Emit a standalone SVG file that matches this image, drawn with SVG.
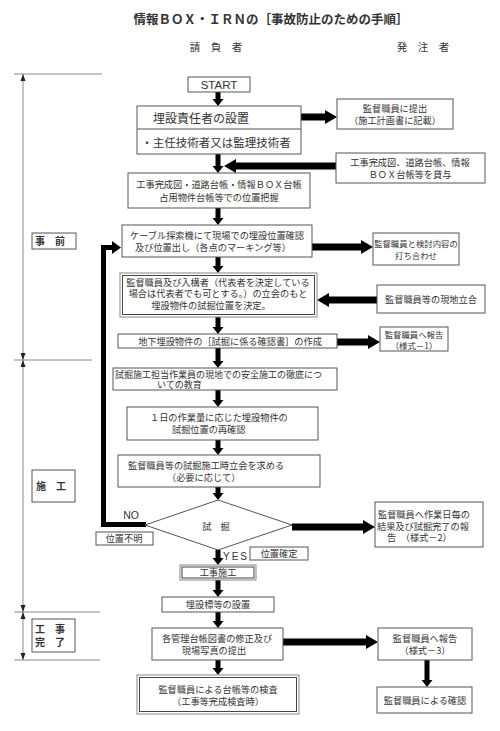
<svg xmlns="http://www.w3.org/2000/svg" width="500" height="731" viewBox="0 0 500 731">
<style>
text{font-family:"Noto Sans CJK JP","Noto Sans CJK SC",sans-serif;fill:#333;font-size:9.2px}
.c{text-anchor:middle}
.b{fill:#fff;stroke:#555;stroke-width:1}
.b2{fill:none;stroke:#888;stroke-width:1}
.a{fill:#000}
.tl{stroke:#888;stroke-width:1;fill:none}
.ah{fill:#222}
.lb{font-weight:bold;font-size:10px}
.s{font-size:8.4px}
</style>
<rect width="500" height="731" fill="#fff"/>
<g id="title">
<text x="271" y="24" class="c" style="font-size:12.5px;font-weight:bold">情報ＢＯＸ・ＩＲＮの［事故防止のための手順］</text>
<text x="216" y="51" class="c" style="font-size:10.5px">請　負　者</text>
<text x="423" y="51" class="c" style="font-size:10.5px">発　注　者</text>
</g>
<g id="timeline">
<line class="tl" x1="23" y1="74" x2="23" y2="660"/>
<line class="tl" x1="14" y1="74" x2="102" y2="74"/>
<line class="tl" x1="14" y1="360" x2="92" y2="360"/>
<line class="tl" x1="14" y1="612" x2="100" y2="612"/>
<line class="tl" x1="14" y1="660" x2="100" y2="660"/>
<polygon class="ah" points="23,74 20.5,81 25.5,81"/>
<polygon class="ah" points="20.5,353 25.5,353 23,360 25.5,367 20.5,367 23,360"/>
<polygon class="ah" points="20.5,605 25.5,605 23,612 25.5,619 20.5,619 23,612"/>
<polygon class="ah" points="20.5,653 25.5,653 23,660"/>
</g>
<g id="phase1"><rect class="b" x="32" y="233" width="44" height="16"/><text x="50" y="245" class="c lb">事　前</text></g>
<g id="phase2"><rect class="b" x="32" y="470" width="43" height="32"/><text x="51" y="490" class="c lb">施　工</text></g>
<g id="phase3"><rect class="b" x="32" y="619" width="43" height="33"/><text class="c lb"><tspan x="50" y="633">工　事</tspan><tspan x="50" y="646">完　了</tspan></text></g>

<g id="connectors">
<polygon class="a" points="215.5,92 220.5,92 220.5,99 223.5,99 218,106 212.5,99 215.5,99"/>
<polygon class="a" points="215.5,154 220.5,154 220.5,166 223.5,166 218,173 212.5,166 215.5,166"/>
<polygon class="a" points="215.5,208 220.5,208 220.5,218 223.5,218 218,225 212.5,218 215.5,218"/>
<polygon class="a" points="215.5,257 220.5,257 220.5,266 223.5,266 218,273 212.5,266 215.5,266"/>
<polygon class="a" points="215.5,317 220.5,317 220.5,327 223.5,327 218,334 212.5,327 215.5,327"/>
<polygon class="a" points="215.5,348 220.5,348 220.5,361 223.5,361 218,368 212.5,361 215.5,361"/>
<polygon class="a" points="215.5,390 220.5,390 220.5,400 223.5,400 218,407 212.5,400 215.5,400"/>
<polygon class="a" points="215.5,440 220.5,440 220.5,448 223.5,448 218,455 212.5,448 215.5,448"/>
<polygon class="a" points="215.5,487 220.5,487 220.5,493 223.5,493 218,500 212.5,493 215.5,493"/>
<polygon class="a" points="215.5,550 220.5,550 220.5,558 223.5,558 218,565 212.5,558 215.5,558"/>
<polygon class="a" points="215.5,580 220.5,580 220.5,590 223.5,590 218,597 212.5,590 215.5,590"/>
<polygon class="a" points="215.5,612 220.5,612 220.5,621 223.5,621 218,628 212.5,621 215.5,621"/>
<polygon class="a" points="215.5,660 220.5,660 220.5,668 223.5,668 218,675 212.5,668 215.5,668"/>
<polygon class="a" points="424.5,660 429.5,660 429.5,680 432.5,680 427,687 421.5,680 424.5,680"/>
<polygon class="a" points="301,113.5 325,113.5 325,110 337,117 325,124 325,120.5 301,120.5"/>
<polygon class="a" points="312,243.5 361,243.5 361,240 373,247 361,254 361,250.5 312,250.5"/>
<polygon class="a" points="337,338.5 368,338.5 368,335 380,342 368,349 368,345.5 337,345.5"/>
<polygon class="a" points="292,523.5 363,523.5 363,520 375,527 363,534 363,530.5 292,530.5"/>
<polygon class="a" points="283,638.5 366,638.5 366,635 378,642 366,649 366,645.5 283,645.5"/>
<polygon class="a" points="336,162.5 236,162.5 236,159 224,166 236,173 236,169.5 336,169.5"/>
<polygon class="a" points="377,296.5 329,296.5 329,293 317,300 329,307 329,303.5 377,303.5"/>
<path d="M146,524.5 H103.5 V247.5 H113" stroke="#000" stroke-width="5" fill="none"/>
<polygon class="a" points="112,241 121,247.5 112,254"/>
<text x="131" y="519" class="c" style="font-family:'Liberation Sans',sans-serif;font-size:10.5px">NO</text>
<text x="223" y="560" style="font-family:'Liberation Sans',sans-serif;font-size:10px;letter-spacing:2px">YES</text>
</g>

<g id="start"><rect class="b" x="188" y="77" width="62" height="15"/><text x="219" y="89" class="c" style="font-family:'Liberation Sans',sans-serif;font-size:11.5px">START</text></g>
<g id="n1"><rect class="b" x="137" y="106" width="164" height="48"/><line x1="137" y1="129" x2="301" y2="129" stroke="#555"/>
<text x="201" y="123" class="c" style="font-size:12px">埋設責任者の設置</text>
<text x="216" y="147" class="c" style="font-size:11.5px">・主任技術者又は監理技術者</text></g>
<g id="r1"><rect class="b" x="337" y="99" width="116" height="30"/><text class="c"><tspan x="395" y="112">監督職員に提出</tspan><tspan x="395" y="124">（施工計画書に記載）</tspan></text></g>
<g id="r2"><rect class="b" x="336" y="153" width="149" height="30"/><text class="c"><tspan x="410" y="166">工事完成図、道路台帳、情報</tspan><tspan x="410" y="178">ＢＯＸ台帳等を貸与</tspan></text></g>
<g id="n2"><rect class="b" x="128" y="173" width="182" height="35"/><text class="c"><tspan x="219" y="188">工事完成図・道路台帳・情報ＢＯＸ台帳</tspan><tspan x="219" y="201">占用物件台帳等での位置把握</tspan></text></g>
<g id="n3"><rect class="b" x="122" y="225" width="190" height="32"/><text class="c"><tspan x="217" y="238.5">ケーブル探索機にて現場での埋設位置確認</tspan><tspan x="213" y="251">及び位置出し（各点のマーキング等）</tspan></text></g>
<g id="r3"><rect class="b" x="373" y="233" width="86" height="32"/><text class="c s"><tspan x="416" y="246.5">監督職員と検討内容の</tspan><tspan x="416" y="259">打ち合わせ</tspan></text></g>
<g id="n4"><rect class="b" x="120" y="273" width="197" height="44" style="stroke:#888"/><rect class="b2" x="122.5" y="275.5" width="192" height="39" style="stroke:#444"/>
<text class="c"><tspan x="218" y="285.5">監督職員及び入構者（代表者を決定している</tspan><tspan x="218" y="297">場合は代表者でも可とする。）の立会のもと</tspan><tspan x="211" y="308.5">埋設物件の試掘位置を決定。</tspan></text></g>
<g id="r4"><rect class="b" x="377" y="285" width="108" height="28"/><text x="431" y="303" class="c">監督職員等の現地立合</text></g>
<g id="n5"><rect class="b" x="118" y="334" width="219" height="14"/><text x="230" y="345" class="c">地下埋設物件の［試掘に係る確認書］の作成</text></g>
<g id="r5"><rect class="b" x="380" y="327" width="68" height="24"/><text class="c s"><tspan x="414" y="337.5">監督職員へ報告</tspan><tspan x="414" y="348.5">（様式－1）</tspan></text></g>
<g id="n6"><rect class="b" x="113" y="368" width="224" height="22"/><text style="font-size:9px"><tspan x="115" y="377.5">試掘施工担当作業員の現地での安全施工の徹底につ</tspan><tspan x="157" y="388">いての教育</tspan></text></g>
<g id="n7"><rect class="b" x="127" y="407" width="191" height="33"/><text><tspan x="150" y="421">１日の作業量に応じた埋設物件の</tspan><tspan x="172" y="433">試掘位置の再確認</tspan></text></g>
<g id="n8"><rect class="b" x="118" y="455" width="202" height="32"/><text><tspan x="128" y="469">監督職員等の試掘施工時立会を求める</tspan><tspan x="167" y="481">（必要に応じて）</tspan></text></g>
<g id="d1"><polygon class="b" points="218,500 292,525 218,550 145,525"/><text x="216" y="530" class="c">試　掘</text></g>
<g id="r6"><rect class="b" x="375" y="502" width="108" height="45"/><text><tspan x="378" y="518">監督職員へ作業日毎の</tspan><tspan x="377" y="529.5">結果及び試掘完了の報</tspan><tspan x="387" y="541">告　（様式－2）</tspan></text></g>
<g id="no"><rect class="b" x="96" y="532" width="57" height="13"/><text x="124" y="542" class="c">位置不明</text></g>
<g id="yes"><rect class="b" x="250" y="547" width="58" height="13"/><text x="279" y="557" class="c">位置確定</text></g>
<g id="n9"><rect class="b" x="180" y="565" width="76" height="15" style="stroke:#888"/><rect class="b2" x="182" y="567" width="72" height="11" style="stroke:#444"/><text x="218" y="576" class="c">工事施工</text></g>
<g id="n10"><rect class="b" x="162" y="597" width="112" height="15"/><text x="218" y="608" class="c">埋設標等の設置</text></g>
<g id="n11"><rect class="b" x="152" y="628" width="131" height="32"/><text class="c"><tspan x="217" y="641.5">各管理台帳図書の修正及び</tspan><tspan x="214" y="654">現場写真の提出</tspan></text></g>
<g id="r7"><rect class="b" x="378" y="628" width="94" height="32"/><text class="c"><tspan x="425" y="641.5">監督職員へ報告</tspan><tspan x="425" y="654">（様式－3）</tspan></text></g>
<g id="n12"><rect class="b" x="137" y="675" width="162" height="39" style="stroke:#888"/><rect class="b2" x="139.5" y="677.5" width="157" height="34" style="stroke:#444"/><text class="c"><tspan x="218" y="692.5">監督職員による台帳等の検査</tspan><tspan x="218" y="705">（工事等完成検査時）</tspan></text></g>
<g id="r8"><rect class="b" x="377" y="687" width="95" height="26"/><text x="425" y="704" class="c">監督職員による確認</text></g>
</svg>
